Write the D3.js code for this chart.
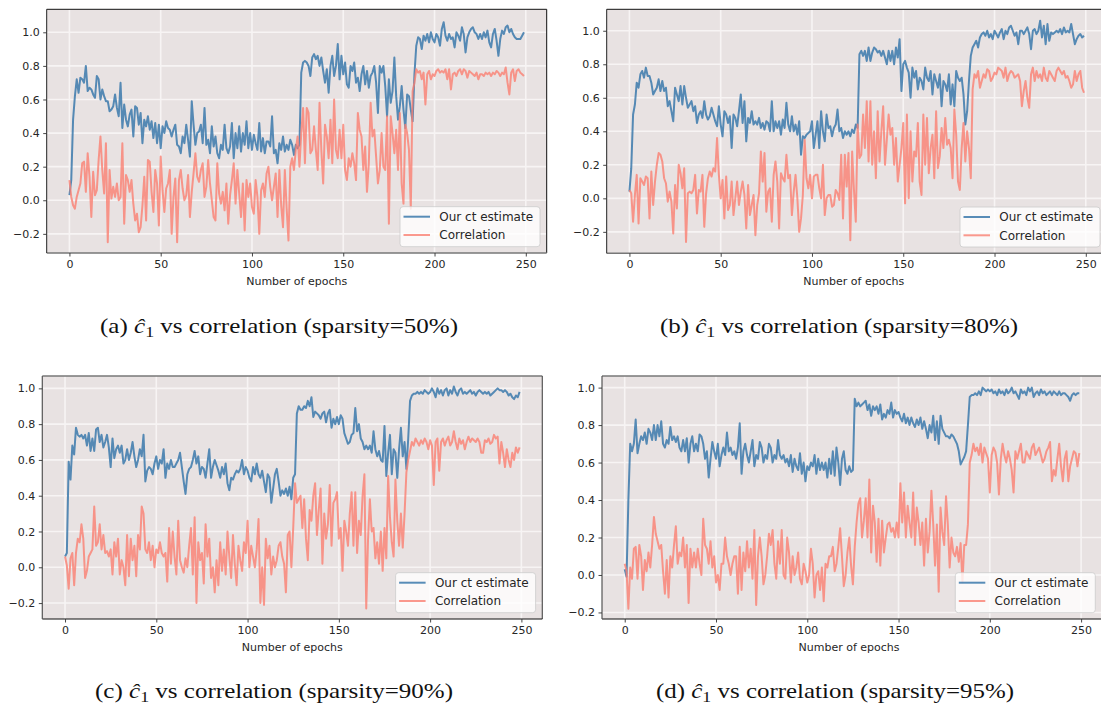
<!DOCTYPE html>
<html>
<head>
<meta charset="utf-8">
<script src="https://cdn.jsdelivr.net/npm/d3@7"></script>
<style>
  body { margin: 0; background: #ffffff; }
  svg { display: block; }
</style>
</head>
<body>
<svg id="fig" width="1101" height="706"></svg>
<script>
// ---- data -------------------------------------------------------------
const xTicks = [0, 50, 100, 150, 200, 250];
const yTicks = [-0.2, 0.0, 0.2, 0.4, 0.6, 0.8, 1.0];
const seriesNames = ["Our ct estimate", "Correlation"];
const panelTags = ["(a)", "(b)", "(c)", "(d)"];
const sparsityLevels = ["50%", "80%", "90%", "95%"];

// sparsity = 50%
const estA = [
  0.03,0.12,0.48,0.62,0.72,0.64,0.73,0.72,0.70,0.80,
  0.65,0.67,0.66,0.63,0.61,0.74,0.72,0.60,0.66,0.62,
  0.59,0.59,0.53,0.54,0.56,0.63,0.55,0.50,0.70,0.43,
  0.57,0.48,0.44,0.51,0.54,0.38,0.56,0.55,0.45,0.52,
  0.34,0.48,0.44,0.50,0.42,0.47,0.37,0.46,0.34,0.45,
  0.31,0.44,0.40,0.47,0.43,0.42,0.38,0.42,0.45,0.33,
  0.32,0.28,0.38,0.34,0.45,0.36,0.26,0.59,0.45,0.33,
  0.40,0.41,0.45,0.34,0.55,0.33,0.36,0.28,0.44,0.32,
  0.38,0.28,0.25,0.33,0.30,0.45,0.31,0.28,0.32,0.46,
  0.25,0.40,0.31,0.44,0.29,0.40,0.33,0.47,0.31,0.40,
  0.30,0.39,0.34,0.30,0.46,0.29,0.37,0.28,0.35,0.35,
  0.32,0.50,0.28,0.30,0.22,0.34,0.30,0.38,0.29,0.33,
  0.30,0.36,0.33,0.27,0.33,0.31,0.33,0.76,0.82,0.83,
  0.82,0.80,0.74,0.85,0.87,0.84,0.86,0.80,0.85,0.77,
  0.70,0.78,0.64,0.80,0.86,0.74,0.80,0.93,0.72,0.86,
  0.75,0.82,0.69,0.67,0.80,0.77,0.82,0.70,0.73,0.65,
  0.75,0.80,0.69,0.77,0.67,0.74,0.76,0.80,0.70,0.52,
  0.80,0.76,0.80,0.68,0.50,0.72,0.58,0.65,0.85,0.62,
  0.48,0.56,0.68,0.54,0.43,0.63,0.62,0.54,0.47,0.75,
  0.92,0.97,0.96,0.90,0.98,0.95,0.99,0.94,1.00,0.96,
  0.94,0.99,0.97,0.92,1.02,1.06,0.98,0.95,0.99,0.96,
  0.97,0.91,1.00,0.98,0.95,1.03,0.99,0.88,0.97,1.00,
  1.02,1.03,1.00,0.99,0.96,0.99,0.96,1.00,0.97,1.01,
  0.94,0.91,0.99,1.02,0.95,0.86,0.96,1.01,0.99,1.03,
  1.04,1.00,1.02,0.99,0.97,0.96,0.96,0.96,0.98,1.00
];
const corA = [
  0.12,0.02,-0.03,-0.05,0.02,0.06,0.10,0.22,0.23,0.05,
  0.28,0.14,-0.10,0.17,0.03,0.06,0.24,0.38,0.18,0.04,
  0.34,-0.25,0.18,0.01,0.08,0.02,0.10,0.00,0.02,0.34,
  -0.14,0.15,0.12,0.05,0.12,-0.02,-0.12,-0.08,-0.19,-0.16,
  -0.03,0.14,-0.12,0.24,0.23,0.05,-0.07,0.18,0.10,-0.15,
  0.26,0.06,-0.07,0.07,0.10,0.18,-0.20,0.02,0.13,-0.25,
  0.12,0.18,0.07,0.00,0.03,0.15,-0.10,0.05,0.16,0.28,
  0.14,0.11,0.18,0.22,0.02,0.08,0.24,0.10,0.00,-0.10,
  -0.12,0.22,0.04,-0.02,0.05,-0.06,0.10,-0.14,0.03,0.12,
  0.22,-0.02,0.18,0.04,-0.10,0.10,-0.18,0.12,0.02,0.10,
  -0.04,-0.08,0.12,0.02,-0.20,0.06,0.10,0.02,0.16,0.20,
  0.08,0.00,0.08,0.16,-0.10,0.18,-0.03,-0.16,0.18,-0.05,
  -0.24,0.20,0.25,0.18,0.30,0.38,0.20,0.40,0.55,0.22,
  0.55,0.52,0.28,0.30,0.44,0.30,0.18,0.58,0.30,0.10,
  0.45,0.38,0.25,0.48,0.22,0.60,0.30,0.25,0.42,0.25,
  0.45,0.18,0.12,0.25,0.20,0.28,0.22,0.12,0.52,0.42,
  0.38,0.18,0.32,0.05,0.22,0.58,0.38,0.42,0.26,0.10,
  0.18,0.40,0.20,0.18,0.50,-0.14,0.50,0.40,0.28,0.42,
  0.18,0.52,0.10,-0.02,0.45,0.40,0.30,-0.05,0.65,0.70,
  0.78,0.76,0.77,0.72,0.76,0.57,0.75,0.77,0.72,0.75,
  0.74,0.77,0.78,0.76,0.77,0.76,0.78,0.72,0.78,0.66,
  0.75,0.76,0.74,0.77,0.78,0.75,0.78,0.77,0.73,0.77,
  0.76,0.75,0.74,0.76,0.72,0.75,0.75,0.74,0.76,0.75,
  0.76,0.74,0.76,0.75,0.77,0.76,0.74,0.76,0.75,0.79,
  0.70,0.63,0.76,0.78,0.71,0.77,0.78,0.76,0.75,0.74
];

// sparsity = 80%
const estB = [
  0.04,0.18,0.50,0.56,0.69,0.66,0.74,0.76,0.72,0.78,
  0.73,0.73,0.69,0.62,0.64,0.66,0.71,0.64,0.70,0.64,
  0.66,0.55,0.58,0.52,0.46,0.66,0.62,0.58,0.67,0.56,
  0.67,0.60,0.54,0.56,0.58,0.52,0.55,0.45,0.50,0.52,
  0.48,0.58,0.50,0.47,0.49,0.54,0.50,0.46,0.43,0.55,
  0.44,0.37,0.52,0.50,0.45,0.49,0.30,0.50,0.48,0.43,
  0.52,0.62,0.45,0.58,0.34,0.48,0.45,0.52,0.44,0.46,
  0.44,0.48,0.42,0.45,0.41,0.46,0.45,0.40,0.58,0.40,
  0.46,0.42,0.46,0.38,0.47,0.42,0.57,0.44,0.40,0.49,
  0.40,0.44,0.38,0.46,0.26,0.37,0.36,0.38,0.39,0.40,
  0.46,0.30,0.38,0.46,0.30,0.52,0.40,0.34,0.50,0.42,
  0.43,0.37,0.42,0.44,0.53,0.40,0.42,0.36,0.40,0.38,
  0.40,0.37,0.41,0.39,0.44,0.42,0.86,0.88,0.85,0.88,
  0.82,0.90,0.82,0.87,0.90,0.89,0.87,0.88,0.85,0.88,
  0.84,0.80,0.88,0.82,0.88,0.80,0.90,0.84,0.95,0.64,
  0.80,0.82,0.78,0.75,0.60,0.78,0.72,0.76,0.65,0.72,
  0.70,0.65,0.78,0.72,0.70,0.76,0.62,0.74,0.70,0.66,
  0.74,0.55,0.70,0.68,0.64,0.74,0.56,0.68,0.55,0.76,
  0.72,0.70,0.72,0.62,0.44,0.52,0.70,0.85,0.90,0.92,
  0.94,0.90,0.96,0.98,0.99,0.97,1.00,0.96,0.98,0.95,
  1.00,0.98,0.96,0.99,1.01,0.95,1.00,0.98,1.02,1.03,
  1.00,0.97,0.99,0.92,1.00,1.00,0.98,1.00,1.02,0.98,
  0.89,1.00,1.01,0.98,1.00,1.06,0.96,1.03,0.92,1.04,
  0.94,0.99,0.98,0.99,1.00,0.99,1.01,0.98,1.02,0.99,
  1.00,0.99,1.04,0.98,0.92,0.95,0.97,0.98,0.96,0.97
];
const corB = [
  0.05,0.03,-0.14,0.02,0.14,-0.15,0.12,0.10,0.08,0.13,
  0.12,-0.12,0.16,-0.04,0.10,0.20,0.27,0.26,0.22,0.12,
  0.09,-0.02,0.04,-0.02,-0.21,0.08,-0.06,0.20,0.15,0.06,
  0.18,-0.26,0.03,0.04,0.03,0.05,0.14,-0.09,0.05,0.04,
  0.14,-0.17,0.03,0.12,0.16,0.13,0.18,0.16,0.36,0.14,
  0.00,0.11,-0.12,0.13,-0.07,-0.04,0.10,-0.10,0.00,0.10,
  -0.04,0.04,0.10,0.02,-0.18,0.08,-0.10,-0.04,0.02,-0.22,
  -0.04,0.03,0.28,0.10,0.27,-0.08,0.04,0.06,-0.14,0.14,
  0.22,0.10,-0.18,0.15,0.12,0.10,0.26,0.12,0.14,-0.10,
  0.04,0.14,0.00,-0.20,-0.12,0.02,0.35,0.12,0.06,0.14,
  0.00,0.13,0.14,0.14,0.06,0.00,0.20,-0.10,0.00,0.02,
  0.02,-0.05,-0.04,0.05,0.03,-0.01,0.26,-0.12,0.26,0.07,
  0.27,-0.25,0.28,0.05,-0.14,0.44,0.24,0.26,0.50,0.30,
  0.58,0.22,0.58,0.20,0.40,0.12,0.52,0.22,0.40,0.55,
  0.20,0.35,0.50,0.38,0.42,0.20,0.36,0.10,0.20,0.30,
  0.45,-0.03,0.50,0.00,0.40,0.10,0.28,0.25,0.45,0.10,
  0.02,0.50,0.20,0.48,0.15,0.30,0.38,0.12,0.52,0.18,
  0.25,0.42,0.30,0.48,0.32,0.35,0.30,0.12,0.53,0.38,
  0.10,0.05,0.30,0.45,0.22,0.40,0.30,0.12,0.65,0.74,
  0.72,0.76,0.66,0.70,0.74,0.72,0.77,0.76,0.70,0.72,
  0.75,0.74,0.78,0.77,0.76,0.72,0.78,0.70,0.74,0.76,
  0.75,0.72,0.73,0.74,0.70,0.55,0.64,0.70,0.60,0.54,
  0.74,0.78,0.70,0.76,0.72,0.74,0.70,0.78,0.72,0.70,
  0.76,0.74,0.72,0.70,0.76,0.78,0.76,0.74,0.76,0.72,
  0.73,0.70,0.66,0.68,0.76,0.70,0.74,0.76,0.66,0.63
];

// sparsity = 90%
const estC = [
  0.06,0.08,0.59,0.49,0.68,0.63,0.78,0.74,0.73,0.74,
  0.72,0.74,0.68,0.75,0.65,0.72,0.65,0.77,0.78,0.70,
  0.74,0.67,0.70,0.74,0.67,0.56,0.72,0.61,0.66,0.68,
  0.64,0.68,0.58,0.60,0.66,0.60,0.64,0.70,0.62,0.56,
  0.60,0.66,0.62,0.74,0.48,0.54,0.56,0.55,0.52,0.58,
  0.62,0.55,0.60,0.58,0.66,0.50,0.58,0.55,0.60,0.56,
  0.56,0.58,0.60,0.64,0.56,0.48,0.41,0.52,0.55,0.56,
  0.60,0.65,0.58,0.62,0.52,0.56,0.55,0.50,0.58,0.66,
  0.50,0.56,0.60,0.57,0.54,0.50,0.56,0.52,0.58,0.47,
  0.43,0.50,0.49,0.52,0.54,0.53,0.55,0.60,0.52,0.56,
  0.54,0.50,0.48,0.56,0.52,0.58,0.52,0.50,0.54,0.48,
  0.42,0.52,0.50,0.36,0.44,0.52,0.55,0.48,0.40,0.43,
  0.41,0.44,0.40,0.45,0.38,0.50,0.52,0.86,0.90,0.88,
  0.88,0.90,0.89,0.93,0.90,0.95,0.84,0.87,0.86,0.85,
  0.83,0.86,0.87,0.81,0.86,0.88,0.78,0.83,0.80,0.84,
  0.80,0.85,0.83,0.75,0.72,0.69,0.70,0.74,0.75,0.89,
  0.76,0.80,0.72,0.70,0.66,0.68,0.66,0.68,0.64,0.76,
  0.66,0.62,0.65,0.60,0.59,0.79,0.51,0.64,0.74,0.52,
  0.66,0.64,0.50,0.66,0.78,0.62,0.70,0.55,0.72,0.93,
  0.96,0.97,0.97,0.98,0.97,0.98,0.97,0.99,0.98,0.97,
  0.98,1.00,0.98,0.95,1.00,0.97,0.99,0.96,0.99,1.00,
  0.96,0.99,0.97,1.01,0.98,0.96,0.99,1.00,0.97,0.98,
  0.97,0.98,0.99,0.97,0.98,0.96,0.98,0.99,0.98,0.97,
  0.98,0.97,0.98,0.96,0.97,0.98,0.99,1.00,0.99,0.99,
  0.98,0.99,0.98,0.96,0.97,0.95,0.94,0.96,0.95,0.98
];
const corC = [
  0.06,0.01,-0.12,0.05,0.08,-0.10,0.08,0.16,0.14,0.24,
  0.16,-0.06,-0.02,0.06,0.08,0.10,0.34,0.12,0.14,0.24,
  0.10,0.18,0.08,0.09,0.06,0.10,-0.04,0.14,0.06,0.16,
  -0.04,0.04,0.00,-0.10,0.18,-0.05,0.16,0.04,0.12,-0.05,
  0.18,0.10,0.34,0.30,0.10,0.08,0.14,0.04,0.12,0.00,
  0.10,0.08,0.14,0.08,0.06,0.08,-0.08,0.22,0.02,0.20,
  0.06,-0.04,0.26,0.04,0.00,-0.03,0.05,0.00,0.12,0.22,
  -0.04,0.28,-0.20,0.14,0.04,0.08,-0.09,0.24,0.06,0.16,
  -0.06,0.00,-0.14,0.04,-0.10,0.14,-0.02,0.10,-0.04,0.20,
  0.06,-0.06,0.18,0.02,-0.10,0.12,0.04,-0.02,0.14,0.08,
  0.26,0.00,0.12,0.06,0.00,0.10,0.27,-0.20,0.00,-0.21,
  0.16,0.05,0.12,-0.04,0.06,0.00,0.04,0.12,0.14,0.06,
  0.02,-0.14,0.18,0.20,0.00,0.22,0.47,0.36,0.38,0.40,
  0.22,0.38,0.16,0.04,0.32,0.26,0.40,0.47,0.18,0.32,
  0.44,0.02,0.30,0.16,0.24,0.46,0.12,0.36,0.38,0.42,
  0.16,0.22,-0.02,0.26,0.20,0.12,0.30,0.42,0.12,0.42,
  0.08,0.26,0.18,0.40,0.52,-0.23,0.16,0.38,0.20,0.22,
  0.05,0.14,0.02,0.20,-0.02,0.22,0.05,0.51,0.28,0.14,
  0.06,0.49,0.26,0.12,0.30,0.11,0.30,0.53,0.60,0.65,
  0.70,0.68,0.72,0.70,0.68,0.71,0.69,0.72,0.70,0.66,
  0.71,0.68,0.46,0.70,0.72,0.54,0.70,0.72,0.68,0.71,
  0.73,0.68,0.70,0.76,0.70,0.66,0.72,0.69,0.71,0.66,
  0.70,0.73,0.70,0.72,0.71,0.70,0.72,0.70,0.64,0.64,
  0.71,0.70,0.72,0.69,0.70,0.74,0.72,0.73,0.58,0.70,
  0.64,0.56,0.66,0.60,0.56,0.64,0.60,0.67,0.64,0.67
];

// sparsity = 95%
const estD = [
  0.03,-0.01,0.40,0.70,0.66,0.70,0.83,0.65,0.70,0.74,
  0.72,0.76,0.70,0.78,0.76,0.72,0.80,0.72,0.80,0.74,
  0.82,0.70,0.68,0.72,0.70,0.79,0.72,0.74,0.71,0.74,
  0.68,0.66,0.72,0.66,0.73,0.60,0.70,0.74,0.66,0.70,
  0.66,0.75,0.74,0.70,0.62,0.66,0.52,0.62,0.71,0.66,
  0.62,0.70,0.58,0.64,0.68,0.64,0.76,0.66,0.68,0.64,
  0.66,0.62,0.68,0.81,0.54,0.66,0.70,0.64,0.60,0.66,
  0.72,0.58,0.64,0.62,0.71,0.68,0.60,0.64,0.62,0.70,
  0.68,0.60,0.64,0.62,0.72,0.64,0.62,0.64,0.60,0.62,
  0.58,0.64,0.55,0.62,0.58,0.56,0.65,0.54,0.60,0.50,
  0.58,0.56,0.60,0.58,0.64,0.54,0.62,0.56,0.60,0.56,
  0.60,0.52,0.62,0.54,0.66,0.53,0.68,0.60,0.48,0.62,
  0.66,0.56,0.54,0.58,0.55,0.56,0.94,0.90,0.92,0.90,
  0.91,0.92,0.93,0.88,0.91,0.85,0.90,0.88,0.90,0.86,
  0.91,0.83,0.86,0.84,0.88,0.86,0.92,0.84,0.88,0.86,
  0.87,0.84,0.82,0.86,0.81,0.84,0.80,0.84,0.81,0.79,
  0.83,0.80,0.84,0.78,0.82,0.78,0.73,0.80,0.76,0.85,
  0.72,0.82,0.70,0.85,0.78,0.76,0.74,0.74,0.73,0.75,
  0.74,0.72,0.70,0.66,0.59,0.61,0.63,0.66,0.80,0.95,
  0.96,0.96,0.97,0.96,0.98,0.96,1.00,0.99,0.98,0.99,
  0.98,0.99,0.97,0.98,0.96,0.99,0.97,0.98,0.96,0.99,
  0.97,0.98,1.00,0.97,0.98,0.96,0.94,0.99,0.97,0.98,
  0.96,1.00,0.98,1.00,0.95,0.97,0.98,0.96,0.99,0.97,
  0.98,0.96,0.97,0.98,0.96,0.98,0.97,0.96,0.98,0.96,
  0.97,0.97,0.96,0.95,0.93,0.96,0.97,0.96,0.97,0.97
];
const corD = [
  0.06,0.02,-0.18,0.04,-0.02,0.14,0.15,-0.02,0.16,0.10,
  -0.08,0.08,0.02,0.12,0.04,0.16,0.31,0.22,0.18,0.14,
  0.16,0.02,-0.10,0.08,-0.12,0.10,0.04,0.16,0.26,0.06,
  0.12,0.10,0.20,0.04,0.16,-0.15,0.14,0.04,0.12,0.04,
  0.14,0.06,0.00,0.30,0.16,0.14,0.06,0.18,0.04,0.10,
  -0.04,0.00,-0.08,0.06,0.06,0.20,0.10,0.06,0.00,0.06,
  0.10,0.10,-0.10,0.15,-0.08,0.12,0.02,0.18,0.04,0.14,
  -0.02,0.24,-0.16,0.10,0.20,0.10,-0.05,0.00,0.10,0.22,
  0.16,0.24,0.06,-0.02,0.18,0.06,0.24,0.00,-0.02,0.20,
  0.12,-0.04,0.10,0.00,0.04,0.12,-0.02,-0.05,0.06,0.02,
  -0.04,0.00,0.14,0.06,-0.12,0.00,0.02,-0.08,0.04,-0.14,
  0.06,0.04,0.10,0.10,0.15,0.02,0.06,0.15,0.25,0.10,
  -0.06,0.00,0.12,0.20,0.05,-0.05,0.15,0.28,0.38,0.41,
  0.20,0.29,0.41,0.20,0.51,0.12,0.37,0.28,0.07,0.30,
  0.05,0.29,0.12,0.20,0.27,0.28,0.23,0.25,0.20,0.28,
  0.20,0.49,0.28,0.44,0.20,0.37,0.28,0.20,0.44,0.16,
  0.36,0.28,0.16,0.28,0.05,0.30,0.12,0.23,0.45,0.27,
  0.05,0.27,-0.09,0.36,0.23,0.16,0.42,0.27,0.04,0.20,
  0.12,0.10,0.15,0.07,0.17,-0.04,0.16,0.16,0.27,0.60,
  0.64,0.70,0.66,0.68,0.64,0.70,0.60,0.68,0.65,0.62,
  0.44,0.64,0.68,0.66,0.60,0.43,0.62,0.70,0.64,0.60,
  0.66,0.62,0.56,0.44,0.66,0.62,0.66,0.70,0.60,0.60,
  0.66,0.64,0.62,0.68,0.70,0.64,0.66,0.68,0.64,0.60,
  0.62,0.66,0.68,0.71,0.50,0.56,0.53,0.62,0.70,0.58,
  0.50,0.62,0.66,0.50,0.58,0.62,0.66,0.65,0.58,0.65
];

// ---- layout & style ---------------------------------------------------
const C = {
  bg: "#e8e2e2",
  grid: "#f7f4f4",
  est: "#3b79ac",
  cor: "#fa8072",
  tick: "#333333",
  text: "#262626"
};

const panels = [
  { est: estA, cor: corA, box: { x: 46.7, y: 9.3, w: 500, h: 243.7 },  yDom: [-0.314, 1.137], capX: 279, capY: 333, topDark: true },
  { est: estB, cor: corB, box: { x: 606.7, y: 9.3, w: 500, h: 244 },   yDom: [-0.328, 1.128], capX: 839, capY: 333, topDark: true },
  { est: estC, cor: corC, box: { x: 42.3, y: 376, w: 500, h: 243 },    yDom: [-0.289, 1.069], capX: 274, capY: 698, topDark: false },
  { est: estD, cor: corD, box: { x: 602, y: 376, w: 500, h: 243 },     yDom: [-0.235, 1.062], capX: 835, capY: 698, topDark: false }
];

const svg = d3.select("#fig");
const fmtY = d => (d < 0 ? "\u2212" : "") + Math.abs(d).toFixed(1);

panels.forEach((p, i) => {
  const { x: bx, y: by, w, h } = p.box;
  const x = d3.scaleLinear().domain([-12.45, 261.45]).range([bx, bx + w]);
  const y = d3.scaleLinear().domain(p.yDom).range([by + h, by]);
  const g = svg.append("g");

  const clipId = "clip" + i;
  svg.append("clipPath").attr("id", clipId)
    .append("rect").attr("x", bx).attr("y", by).attr("width", w).attr("height", h);

  // plot background
  g.append("rect").attr("x", bx).attr("y", by).attr("width", w).attr("height", h).attr("fill", C.bg);

  // white grid
  const grid = g.append("g").attr("clip-path", `url(#${clipId})`)
    .attr("stroke", C.grid).attr("stroke-width", 1.6);
  grid.selectAll(".gx").data(xTicks).join("line")
    .attr("x1", d => x(d)).attr("x2", d => x(d)).attr("y1", by).attr("y2", by + h);
  grid.selectAll(".gy").data(yTicks).join("line")
    .attr("y1", d => y(d)).attr("y2", d => y(d)).attr("x1", bx).attr("x2", bx + w);

  // series
  const line = d3.line().x((d, k) => x(k)).y(d => y(d));
  const lines = g.append("g").attr("clip-path", `url(#${clipId})`).attr("fill", "none")
    .attr("stroke-width", 2).attr("stroke-linejoin", "round");
  lines.append("path").datum(p.est).attr("d", line).attr("stroke", C.est).attr("stroke-opacity", 0.85);
  lines.append("path").datum(p.cor).attr("d", line).attr("stroke", C.cor).attr("stroke-opacity", 0.8);

  // spines
  const sp = g.append("g").attr("fill", "none");
  if (p.topDark) {
    sp.append("line").attr("x1", bx).attr("x2", bx + w).attr("y1", by).attr("y2", by).attr("stroke", "#111").attr("stroke-width", 1);
    sp.append("line").attr("x1", bx + w).attr("x2", bx + w).attr("y1", by).attr("y2", by + h).attr("stroke", "#111").attr("stroke-width", 1);
    sp.append("line").attr("x1", bx).attr("x2", bx + w).attr("y1", by + h).attr("y2", by + h).attr("stroke", "#777").attr("stroke-width", 1.6);
    sp.append("line").attr("x1", bx).attr("x2", bx).attr("y1", by).attr("y2", by + h).attr("stroke", "#222").attr("stroke-width", 1);
  } else {
    sp.append("line").attr("x1", bx).attr("x2", bx + w).attr("y1", by).attr("y2", by).attr("stroke", "#777").attr("stroke-width", 1.6);
    sp.append("line").attr("x1", bx + w).attr("x2", bx + w).attr("y1", by).attr("y2", by + h).attr("stroke", "#555").attr("stroke-width", 1.2);
    sp.append("line").attr("x1", bx).attr("x2", bx + w).attr("y1", by + h).attr("y2", by + h).attr("stroke", "#111").attr("stroke-width", 1);
    sp.append("line").attr("x1", bx).attr("x2", bx).attr("y1", by).attr("y2", by + h).attr("stroke", "#555").attr("stroke-width", 1.2);
  }

  // axes
  const xAxis = d3.axisBottom(x).tickValues(xTicks).tickFormat(d3.format("d")).tickSize(3.5).tickPadding(3.5);
  const yAxis = d3.axisLeft(y).tickValues(yTicks).tickFormat(fmtY).tickSize(3.5).tickPadding(3.5);
  const ax = g.append("g").attr("transform", `translate(0,${by + h})`).call(xAxis);
  const ay = g.append("g").attr("transform", `translate(${bx},0)`).call(yAxis);
  [ax, ay].forEach(a => {
    a.select(".domain").remove();
    a.selectAll(".tick line").attr("stroke", C.tick).attr("stroke-width", 0.9);
    a.selectAll(".tick text").attr("fill", C.text)
      .style("font-family", "'DejaVu Sans', sans-serif").style("font-size", "11px");
  });

  // x label
  g.append("text").attr("x", bx + w / 2 - (i % 2 === 1 ? 3 : 0)).attr("y", by + h + 31.5)
    .attr("text-anchor", "middle").attr("fill", C.text)
    .style("font-family", "'DejaVu Sans', sans-serif").style("font-size", "11px")
    .text("Number of epochs");

  // legend
  const lw = 140, lh = 40;
  const lx = bx + w - 6.7 - lw, ly = by + h - 6.3 - lh;
  const lg = g.append("g");
  lg.append("rect").attr("x", lx).attr("y", ly).attr("width", lw).attr("height", lh).attr("rx", 3)
    .attr("fill", "#ffffff").attr("fill-opacity", 0.8).attr("stroke", "#cccccc").attr("stroke-width", 0.8);
  const cols = [C.est, C.cor], ops = [0.85, 0.8];
  seriesNames.forEach((name, k) => {
    const yy = ly + 10 + k * 18.3;
    lg.append("line").attr("x1", lx + 3.5).attr("x2", lx + 30).attr("y1", yy).attr("y2", yy)
      .attr("stroke", cols[k]).attr("stroke-opacity", ops[k]).attr("stroke-width", 2);
    lg.append("text").attr("x", lx + 39.3).attr("y", yy + 4.3).attr("fill", C.text)
      .style("font-family", "'DejaVu Sans', sans-serif").style("font-size", "12px").text(name);
  });

  // caption (wide serif face, stretched to the caption width)
  const cap = svg.append("text").attr("x", p.capX - 179).attr("y", p.capY)
    .attr("textLength", 358).attr("lengthAdjust", "spacingAndGlyphs")
    .attr("fill", "#111").style("font-family", "'Liberation Serif', 'DejaVu Serif', serif").style("font-size", "21px");
  cap.append("tspan").text(panelTags[i] + " ");
  cap.append("tspan").style("font-style", "italic").text("\u0109");
  cap.append("tspan").attr("dy", 4).style("font-size", "15px").text("1");
  cap.append("tspan").attr("dy", -4).text(" vs correlation (sparsity=" + sparsityLevels[i] + ")");
});
</script>
</body>
</html>
